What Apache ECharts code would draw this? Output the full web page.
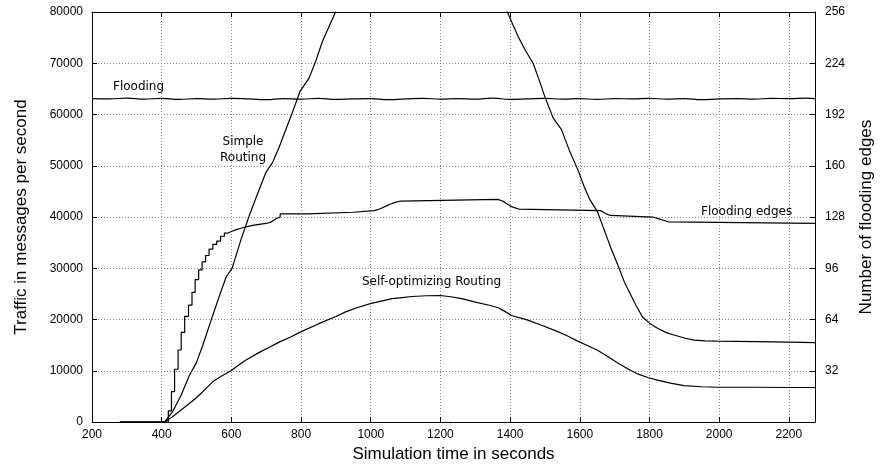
<!DOCTYPE html>
<html>
<head>
<meta charset="utf-8">
<script src="https://cdn.jsdelivr.net/npm/echarts@6/dist/echarts.min.js"></script>
<style>
html,body{margin:0;padding:0;background:#fff;}
#chart{width:883px;height:468px;}
</style>
</head>
<body>
<div id="chart"></div>
<script>
// ---- data ----
var xTicks = [200,400,600,800,1000,1200,1400,1600,1800,2000,2200];
var leftTicks = [0,10000,20000,30000,40000,50000,60000,70000,80000];
var rightTicks = [32,64,96,128,160,192,224,256];

var floodingX = [200,250,300,350,400,450,500,550,600,650,700,750,800,850,900,950,1000,1050,1100,1150,1200,1250,1300,1350,1400,1450,1500,1550,1600,1650,1700,1750,1800,1850,1900,1950,2000,2050,2100,2150,2200,2250,2275];
var floodingY = [63100,63050,63200,63000,63150,62950,63100,63000,63150,63050,62900,63100,63000,63150,62950,63050,63100,62900,63050,63150,63000,63100,63000,63200,62950,63050,63150,63000,63100,62950,63100,63050,63150,63000,63100,62900,63050,63100,63000,63150,63100,63200,63100];

var simpleX = [280,408,432,456,480,499,518,542,566,585,602,628,651,671,699,718,737,770,797,823,842,861,880,899,920,1370,1392,1408,1423,1444,1466,1483,1499,1523,1547,1570,1594,1612,1628,1651,1670,1690,1710,1728,1745,1761,1780,1800,1823,1850,1870,1900,1928,1960,1994,2050,2109,2200,2275];
var simpleY = [0,0,2100,5300,9200,11500,15000,19900,24700,28300,30000,35700,40200,43800,48700,50600,53600,59500,64500,67100,70400,74200,77100,80000,84000,84000,80000,77500,75200,72500,70000,66800,63600,59400,57100,53000,49300,46000,43500,41000,37500,33800,30500,27300,25000,22800,20500,19300,18300,17400,17000,16400,16000,15850,15800,15750,15700,15600,15500];

var selfOptX = [280,408,430,451,475,499,523,547,572,599,620,642,680,709,737,770,799,851,900,928,960,999,1030,1061,1090,1118,1160,1199,1230,1261,1300,1340,1366,1385,1404,1451,1490,1528,1565,1594,1620,1651,1680,1710,1740,1766,1795,1823,1860,1899,1950,1994,2100,2200,2275];
var selfOptY = [0,0,1000,2100,3400,4700,6300,7900,9000,10000,11100,12100,13600,14600,15600,16600,17600,19200,20600,21500,22300,23100,23600,24100,24300,24500,24650,24700,24450,24100,23400,22800,22300,21600,20800,19900,18900,17900,16800,15800,15000,14000,12800,11500,10300,9400,8700,8200,7600,7100,6900,6800,6800,6750,6750];

var edgesX = [280,419,428,437,447,456,466,477,487,496,506,516,526,536,547,558,569,580,590,600,612,627,645,665,700,715,722,728,740,820,950,1010,1025,1035,1045,1055,1068,1085,1365,1378,1386,1393,1400,1410,1425,1660,1668,1676,1688,1810,1825,1840,1855,2275];
var edgesY = [0,7,19,33,45,56,66,73,81,89,95,100,104,108,111,113,116,118,119,120,121,122,123,124,125,126,127,128,130,131,132,133,134,135,136,137,138,139,138,137,136,135,134,133,132,131,130,129,128,127,126,125,124,124];

function zip(a,b){return a.map(function(v,i){return [v,b[i]];});}

var chart = echarts.init(document.getElementById('chart'), null, {renderer:'canvas'});
var tickFont = 'Liberation Sans';
var gridLine = {show:true, lineStyle:{color:'#8a8a8a', type:[1,2], width:1}};
var axisLine = {show:true, onZero:false, lineStyle:{color:'#000', width:1}};

var option = {
  animation:false,
  backgroundColor:'#fff',
  grid:{left:92, right:65, top:12, bottom:44, containLabel:false},
  xAxis:[{
    type:'value', min:200, max:2275, interval:200, position:'bottom',
    axisLine:axisLine,
    axisTick:{show:true, inside:true, length:5, lineStyle:{color:'#000'}},
    axisLabel:{color:'#000', fontFamily:tickFont, fontSize:12, margin:7,
      formatter:function(v){return xTicks.indexOf(v)>=0 ? String(v) : '';}},
    splitLine:gridLine,
    name:'Simulation time in seconds', nameLocation:'middle', nameGap:23,
    nameTextStyle:{color:'#000', fontFamily:tickFont, fontSize:17}
  },{
    type:'value', min:200, max:2275, interval:200, position:'top',
    axisLine:axisLine,
    axisTick:{show:true, inside:true, length:5, lineStyle:{color:'#000'}},
    axisLabel:{show:false}, splitLine:{show:false}
  }],
  yAxis:[{
    type:'value', min:0, max:80000, interval:10000, position:'left',
    axisLine:axisLine,
    axisTick:{show:true, inside:true, length:5, lineStyle:{color:'#000'}},
    axisLabel:{color:'#000', fontFamily:tickFont, fontSize:12, margin:9,
      formatter:function(v){return leftTicks.indexOf(v)>=0 ? String(v) : '';}},
    splitLine:gridLine,
    name:'Traffic in messages per second', nameLocation:'middle', nameGap:62,
    nameTextStyle:{color:'#000', fontFamily:tickFont, fontSize:17}
  },{
    type:'value', min:0, max:256, interval:32, position:'right',
    axisLine:axisLine,
    axisTick:{show:true, inside:true, length:5, lineStyle:{color:'#000'}},
    axisLabel:{color:'#000', fontFamily:tickFont, fontSize:12, margin:10,
      formatter:function(v){return rightTicks.indexOf(v)>=0 ? String(v) : '';}},
    splitLine:{show:false},
    name:'Number of flooding edges', nameLocation:'middle', nameGap:43,
    nameTextStyle:{color:'#000', fontFamily:tickFont, fontSize:17}
  }],
  series:[
    {name:'Flooding', type:'line', xAxisIndex:0, yAxisIndex:0, data:zip(floodingX,floodingY), smooth:true,
      showSymbol:false, lineStyle:{color:'#000', width:1.2}, z:3},
    {name:'Simple Routing', type:'line', xAxisIndex:0, yAxisIndex:0, data:zip(simpleX,simpleY), clip:true,
      showSymbol:false, lineStyle:{color:'#000', width:1.2}, z:3},
    {name:'Self-optimizing Routing', type:'line', xAxisIndex:0, yAxisIndex:0, data:zip(selfOptX,selfOptY),
      showSymbol:false, lineStyle:{color:'#000', width:1.2}, z:3},
    {name:'Flooding edges', type:'line', xAxisIndex:0, yAxisIndex:1, data:zip(edgesX,edgesY), step:'end',
      showSymbol:false, lineStyle:{color:'#000', width:1.2}, z:3}
  ],
  graphic:[
    {type:'text', left:113, top:81, z:10, style:{text:'Flooding', font:'12px "DejaVu Sans"', fill:'#000'}},
    {type:'text', x:243, y:134, z:10, style:{text:'Simple\nRouting', font:'12px "DejaVu Sans"', fill:'#000', lineHeight:16, align:'center', verticalAlign:'top'}},
    {type:'text', left:362, top:276, z:10, style:{text:'Self-optimizing Routing', font:'12px "DejaVu Sans"', fill:'#000'}},
    {type:'text', left:701, top:206, z:10, style:{text:'Flooding edges', font:'12px "DejaVu Sans"', fill:'#000'}}
  ]
};
chart.setOption(option);
</script>
</body>
</html>
